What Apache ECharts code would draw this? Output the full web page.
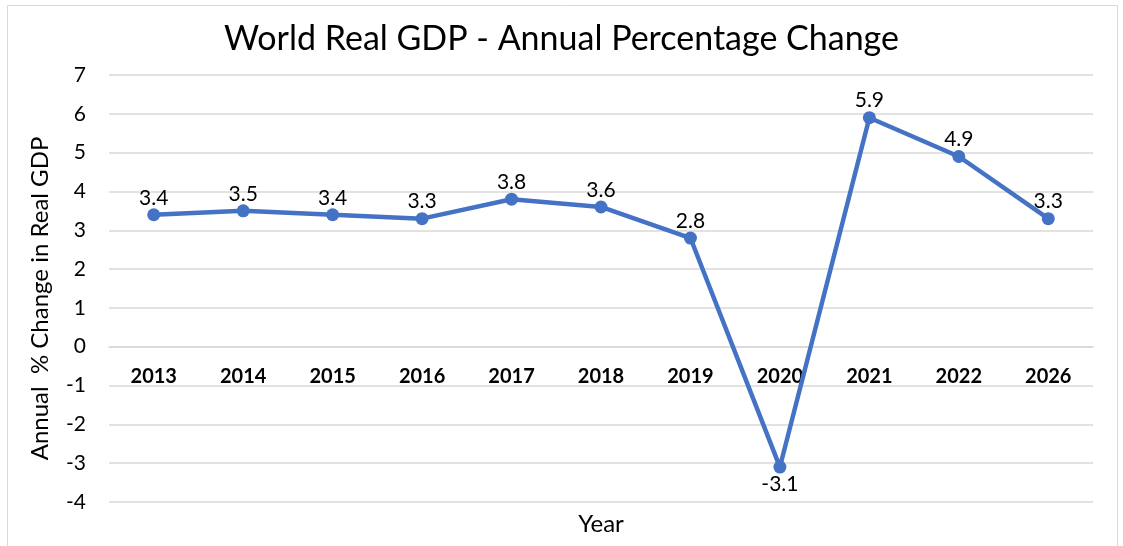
<!DOCTYPE html>
<html>
<head>
<meta charset="utf-8">
<script src="https://cdn.jsdelivr.net/npm/echarts@6/dist/echarts.min.js"></script>
<style>
  html, body { margin: 0; padding: 0; background: #fff; }
  #chart { width: 1123px; height: 546px; }
</style>
</head>
<body>
<div id="chart"></div>
<script>
const years = ['2013', '2014', '2015', '2016', '2017', '2018', '2019', '2020', '2021', '2022', '2026']
const gdpChange = [3.4, 3.5, 3.4, 3.3, 3.8, 3.6, 2.8, -3.1, 5.9, 4.9, 3.3]
const yMin = -4
const yMax = 7

const font = 'Lato, "Open Sans", sans-serif'
const gridTop = 75
const gridBottom = 44
const chartH = 546
// the year labels sit on the zero line, so shift that axis up from the bottom
const zeroOffset = -((chartH - gridBottom - gridTop) * (0 - yMin) / (yMax - yMin))

const chart = echarts.init(document.getElementById('chart'))

chart.setOption({
  animation: false,
  textStyle: { fontFamily: font },
  title: {
    text: 'World Real GDP - Annual Percentage Change',
    left: 'center',
    top: 17,
    textStyle: { fontFamily: font, fontSize: 34, fontWeight: 'normal', color: '#000' }
  },
  graphic: [{
    type: 'rect',
    shape: { x: 7.5, y: 5.5, width: 1110, height: 600 },
    style: { fill: null, stroke: '#d9d9d9', lineWidth: 1 },
    silent: true
  }],
  grid: {
    left: 109,
    right: 30,
    top: gridTop,
    bottom: gridBottom,
    outerBoundsMode: 'none'
  },
  xAxis: [{
    type: 'category',
    data: years,
    position: 'bottom',
    offset: zeroOffset,
    axisLine: { onZero: false, lineStyle: { color: '#d9d9d9', width: 1.5 } },
    axisTick: { show: false },
    axisLabel: {
      margin: 20,
      fontFamily: font,
      fontSize: 20,
      fontWeight: 'bold',
      color: '#000'
    }
  }, {
    type: 'category',
    data: years,
    position: 'bottom',
    name: 'Year',
    nameLocation: 'middle',
    nameGap: 10,
    nameTextStyle: { fontFamily: font, fontSize: 24, color: '#000' },
    axisLine: { show: false, onZero: false },
    axisTick: { show: false },
    axisLabel: { show: false }
  }],
  yAxis: {
    type: 'value',
    min: yMin,
    max: yMax,
    interval: 1,
    name: 'Annual  % Change in Real GDP',
    nameLocation: 'middle',
    nameGap: 57,
    nameTextStyle: { fontFamily: font, fontSize: 24, color: '#000', padding: [0, 20, 0, 0] },
    axisLine: { show: false },
    axisTick: { show: false },
    axisLabel: { margin: 23, fontFamily: font, fontSize: 21, color: '#000' },
    splitLine: { lineStyle: { color: '#d9d9d9', width: 1.5 } }
  },
  series: [{
    type: 'line',
    xAxisIndex: 0,
    data: gdpChange.map(v => ({
      value: v,
      label: { position: v < 0 ? 'bottom' : 'top' }
    })),
    symbol: 'circle',
    symbolSize: 13,
    lineStyle: { color: '#4472c4', width: 4.5 },
    itemStyle: { color: '#4472c4' },
    label: {
      show: true,
      fontFamily: font,
      fontSize: 21,
      color: '#000',
      distance: 0
    }
  }]
})
</script>
</body>
</html>
